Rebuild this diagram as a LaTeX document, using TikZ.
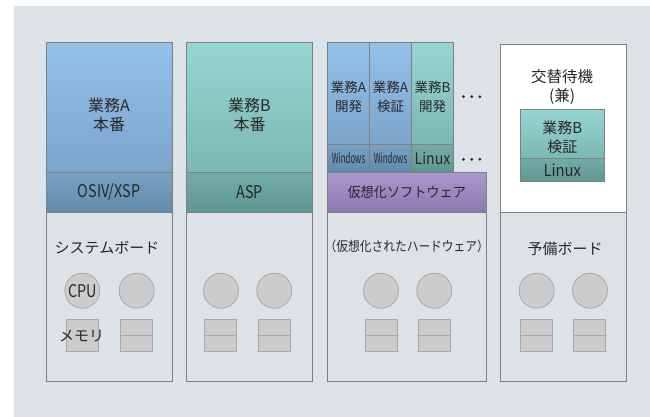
\documentclass[tikz,border=0pt]{standalone}
\usepackage{fontspec}
\newfontfamily\jp{Noto Sans CJK JP}
\usepackage{graphicx}
\definecolor{bgc}{RGB}{221,226,230}
\definecolor{edge}{RGB}{128,128,128}
\definecolor{txt}{RGB}{40,40,40}
\definecolor{blueT}{RGB}{146,193,233}
\definecolor{blueB}{RGB}{124,164,203}
\definecolor{blueBandT}{RGB}{120,162,196}
\definecolor{blueBandB}{RGB}{98,138,170}
\definecolor{tealT}{RGB}{150,213,211}
\definecolor{tealB}{RGB}{124,184,179}
\definecolor{tealBandT}{RGB}{116,172,167}
\definecolor{tealBandB}{RGB}{94,150,145}
\definecolor{purT}{RGB}{170,152,207}
\definecolor{purB}{RGB}{140,120,176}
\definecolor{partfill}{RGB}{204,204,204}
\definecolor{partedge}{RGB}{168,168,168}
\newcommand{\cnd}[2][0.82]{\scalebox{#1}[1]{#2}}
\tikzset{
  blk/.style={draw=edge, line width=1pt, inner sep=0pt, outer sep=0pt, rectangle},
  board/.style={blk, fill=bgc},
  lbl/.style={font=\jp\fontsize{15}{18.5}\selectfont, text=txt, align=center, inner sep=0pt},
  big/.style={font=\jp\fontsize{17.5}{20}\selectfont, text=txt, align=center, inner sep=0pt},
  slbl/.style={font=\jp\fontsize{13.5}{18.7}\selectfont, text=txt, align=center, inner sep=0pt},
  cpu/.style={circle, draw=partedge, fill=partfill, line width=0.8pt, minimum size=35pt, inner sep=0pt},
  mem/.style={rectangle, draw=partedge, fill=partfill, line width=0.8pt, minimum width=32pt, minimum height=32.4pt, inner sep=0pt},
  dotc/.style={fill=txt, draw=none},
}
\newcommand{\memunit}[3]{%
  \node[mem] (#1) at (#2,#3) {};
  \draw[partedge, line width=0.8pt] (#1.west) -- (#1.east);
}
\begin{document}
\begin{tikzpicture}[x=1pt,y=-1pt]
\useasboundingbox (0,0) rectangle (650,417);
\fill[bgc] (14,5.7) rectangle (650,417);

% ---------- column 1 ----------
\node[blk, minimum width=126pt, minimum height=129pt, top color=blueT, bottom color=blueB] (c1top) at (109,107.5) {};
\node[blk, minimum width=126pt, minimum height=40pt, top color=blueBandT, bottom color=blueBandB] (c1band) at (109,192) {};
\node[board, minimum width=126pt, minimum height=169.5pt] (c1board) at (109,296.75) {};
\node[lbl, font=\jp\fontsize{16}{18.5}\selectfont] (t1a) at (109,115) {業務A\\本番};
\node[big] (t1b) at (109,192.5) {\cnd{OSIV/XSP}};
\node[lbl] (t1c) at (107,248) {システムボード};
\node[cpu] (p11) at (82.3,290.7) {};
\node[cpu] (p12) at (136.7,290.7) {};
\node[big] (cpuL) at (82.3,291) {\cnd{CPU}};
\node[mem] (m11) at (82,335.5) {};
\node[lbl] (memL) at (81.7,336.5) {メモリ};
\memunit{m12}{136.7}{335.5}

% ---------- column 2 ----------
\node[blk, minimum width=126pt, minimum height=129pt, top color=tealT, bottom color=tealB] (c2top) at (249.5,107.5) {};
\node[blk, minimum width=126pt, minimum height=40pt, top color=tealBandT, bottom color=tealBandB] (c2band) at (249.5,192) {};
\node[board, minimum width=126pt, minimum height=169.5pt] (c2board) at (249.5,296.75) {};
\node[lbl, font=\jp\fontsize{16}{18.5}\selectfont] (t2a) at (249.5,115) {業務B\\本番};
\node[big] (t2b) at (249.5,192.5) {\cnd{ASP}};
\node[cpu] (p21) at (221,290.7) {};
\node[cpu] (p22) at (274.3,290.7) {};
\memunit{m21}{220.5}{335.5}
\memunit{m22}{274}{335.5}

% ---------- column 3 ----------
\node[blk, minimum width=42pt, minimum height=101pt, top color=blueT, bottom color=blueB] (v1) at (348.5,93.5) {};
\node[blk, minimum width=42pt, minimum height=101pt, top color=blueT, bottom color=blueB] (v2) at (390.5,93.5) {};
\node[blk, minimum width=42pt, minimum height=101pt, top color=tealT, bottom color=tealB] (v3) at (432.5,93.5) {};
\node[blk, minimum width=42pt, minimum height=28pt, top color=blueBandT, bottom color=blueBandB] (o1) at (348.5,158) {};
\node[blk, minimum width=42pt, minimum height=28pt, top color=blueBandT, bottom color=blueBandB] (o2) at (390.5,158) {};
\node[blk, minimum width=42pt, minimum height=28pt, top color=tealBandT, bottom color=tealBandB] (o3) at (432.5,158) {};
\node[blk, minimum width=158.5pt, minimum height=40pt, top color=purT, bottom color=purB] (virt) at (406.75,192) {};
\node[board, minimum width=158.5pt, minimum height=169.5pt] (c3board) at (406.75,296.75) {};
\node[slbl] (tv1) at (348.5,96.7) {業務A\\開発};
\node[slbl] (tv2) at (390.5,96.7) {業務A\\検証};
\node[slbl] (tv3) at (432.5,96.7) {業務B\\開発};
\node[slbl, font=\jp\fontsize{14}{18}\selectfont] (to1) at (348.5,158.5) {\cnd[0.56]{Windows}};
\node[slbl, font=\jp\fontsize{14}{18}\selectfont] (to2) at (390.5,158.5) {\cnd[0.56]{Windows}};
\node[big, font=\jp\fontsize{16}{18}\selectfont] (to3) at (432.5,158.5) {\cnd[0.88]{Linux}};
\node[lbl, font=\jp\fontsize{14}{18}\selectfont] (tvirt) at (406.75,192.5) {\cnd[0.94]{仮想化ソフトウェア}};
\node[lbl, font=\jp\fontsize{13.5}{18}\selectfont] (t3c) at (406.75,246.7) {\cnd[0.87]{（仮想化されたハードウェア）}};
\foreach \xx in {463.5,471.7,479.9} {
  \fill[dotc] (\xx,96.7) circle (1.5pt);
  \fill[dotc] (\xx,159.3) circle (1.5pt);
}
\node[cpu] (p31) at (381,290.7) {};
\node[cpu] (p32) at (434.3,290.7) {};
\memunit{m31}{381}{335.5}
\memunit{m32}{434}{335.5}

% ---------- column 4 ----------
\node[blk, fill=white, minimum width=125.5pt, minimum height=167.5pt] (c4top) at (563.25,128.25) {};
\node[board, minimum width=125.5pt, minimum height=169.5pt] (c4board) at (563.25,296.75) {};
\node[lbl, font=\jp\fontsize{15.5}{19}\selectfont] (t4a) at (562,87.2) {交替待機\\(兼)};
\node[blk, minimum width=84pt, minimum height=49pt, top color=tealT, bottom color=tealB] (s1) at (562.3,133.8) {};
\node[blk, minimum width=84pt, minimum height=23.4pt, top color=tealBandT, bottom color=tealBandB] (s2) at (562.3,170) {};
\node[lbl] (ts1) at (562.3,137.5) {業務B\\検証};
\node[big, font=\jp\fontsize{16.5}{18}\selectfont] (ts2) at (562.3,170.5) {\cnd[0.9]{Linux}};
\node[lbl] (t4c) at (565,249) {予備ボード};
\node[cpu] (p41) at (536.7,290.7) {};
\node[cpu] (p42) at (590,290.7) {};
\memunit{m41}{536}{335.5}
\memunit{m42}{589.5}{335.5}
\end{tikzpicture}
\end{document}
